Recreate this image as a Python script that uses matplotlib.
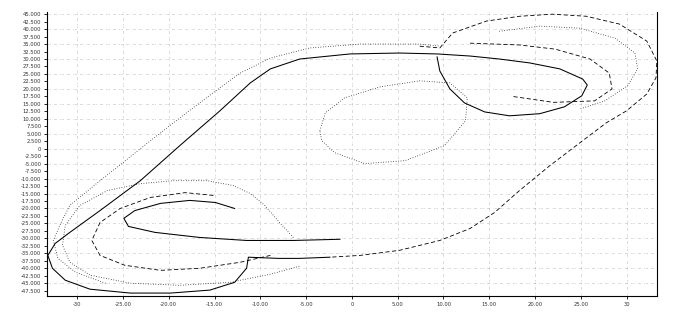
import matplotlib
matplotlib.use("Agg")
import matplotlib.pyplot as plt
import numpy as np

# ---- data ----
# solid: right-lobe loop, top arc, outer left arc, bottom, back out to the right
solid_main_x = [9.3, 9.6, 10.7, 12.3, 14.5, 17.2, 20.5, 23.2, 25.1, 25.7, 25.2, 22.7, 19.4, 16.1, 12.9,
                9.3, 5.2, -0.2, -5.7, -8.9, -11.1, -14.4, -18.8, -23.1, -27.5, -30.8, -32.4, -33.2,
                -32.7, -31.3, -28.6, -24.2, -19.8, -15.5, -12.8, -11.5, -11.3, -8.0, -5.7, -2.4]
solid_main_y = [30.7, 26.0, 20.0, 15.3, 12.3, 11.0, 11.7, 14.0, 17.7, 21.3, 23.3, 26.7, 28.7, 30.0, 31.0,
                31.7, 32.0, 31.7, 30.0, 26.7, 22.0, 12.7, 1.0, -10.7, -20.7, -28.0, -31.7, -35.7,
                -40.0, -44.0, -47.0, -48.3, -48.3, -47.3, -44.7, -40.0, -36.3, -36.7, -36.7, -36.3]

# solid: inner loop of the lower lobe
solid_inner_x = [-1.3, -6.4, -11.5, -16.6, -21.5, -24.4, -24.9, -23.7, -20.9, -17.7, -14.9, -12.8]
solid_inner_y = [-30.3, -30.7, -30.7, -29.7, -28.0, -26.0, -23.3, -20.7, -18.3, -17.3, -18.0, -20.0]

# dashed: outer right loop and the long way back down
dash_outer_x = [7.4, 9.6, 11.0, 14.7, 18.3, 21.9, 25.6, 29.2, 32.2, 33.3, 33.2, 32.2, 30.0, 27.8,
                24.9, 21.6, 18.3, 15.6, 12.9, 9.6, 5.2, 0.9, -2.4]
dash_outer_y = [34.3, 33.7, 38.7, 42.7, 44.3, 45.0, 44.3, 41.7, 36.0, 29.3, 23.7, 18.3, 12.7, 8.7,
                2.0, -5.7, -14.0, -21.3, -26.7, -30.7, -34.0, -35.7, -36.3]

# dotted: upper diagonal running parallel to the solid one
dot_upper_x = [-26.9, -30.2, -32.1, -32.6, -31.8, -30.8, -27.5, -23.1, -18.8, -14.9, -12.2, -8.9,
               -4.6, 0.9, 7.4, 9.6]
dot_upper_y = [-45.0, -41.3, -36.7, -30.7, -25.0, -19.0, -10.7, 0.0, 10.3, 19.3, 25.3, 30.3,
               33.7, 35.0, 35.0, 34.3]

# dashed: middle loop of the lower lobe
dash_lower_x = [-8.9, -12.2, -16.6, -20.9, -24.8, -27.5, -28.4, -27.5, -25.3, -22.0, -18.2, -14.9]
dash_lower_y = [-35.7, -38.0, -40.0, -40.7, -39.0, -35.7, -30.7, -24.7, -20.0, -16.3, -14.7, -15.7]

# dotted: outer loop of the lower lobe
dot_lower_x = [-6.4, -7.9, -9.5, -11.1, -13.0, -15.8, -19.5, -23.1, -26.7, -29.7, -31.3, -31.6,
               -30.8, -28.6, -24.2, -18.8, -13.3, -8.9, -5.7]
dot_lower_y = [-29.7, -24.7, -19.0, -15.0, -12.3, -10.7, -10.7, -11.7, -14.0, -19.0, -25.7, -32.3,
               -38.0, -42.3, -45.0, -45.7, -44.7, -42.0, -39.3]

# dotted: central ellipse
dot_center_x = [-3.5, -2.9, -0.8, 3.1, 7.4, 10.7, 12.6, 12.4, 10.1, 5.8, 1.4, -1.9, -3.3, -3.5]
dot_center_y = [6.0, 12.0, 17.0, 20.7, 22.7, 22.0, 17.0, 9.3, 1.0, -4.0, -5.0, -1.3, 2.7, 6.0]

# dotted: inner loop of the right lobe
dot_right_x = [16.1, 20.5, 24.9, 28.7, 30.9, 31.2, 30.1, 27.6, 24.9]
dot_right_y = [39.3, 41.0, 40.3, 37.0, 32.0, 26.7, 21.0, 16.0, 13.3]

# dashed: inner band of the right lobe
dash_right_x = [12.9, 18.3, 22.2, 26.0, 28.1, 28.4, 26.5, 22.0, 17.5]
dash_right_y = [35.3, 34.7, 33.3, 30.0, 25.3, 20.0, 16.0, 15.5, 17.5]

x_ticks = [-30, -25, -20, -15, -10, -5, 0, 5, 10, 15, 20, 25, 30]
x_labels = ['-30', '-25.00', '-20.00', '-15.00', '-10.00', '-5.00', '0',
            '5.00', '10.00', '15.00', '20.00', '25.00', '30']
y_major = np.arange(-45, 46, 5)
y_minor = np.arange(-47.5, 45, 5)

fig = plt.figure(figsize=(6.8, 3.18), dpi=100)
ax = fig.add_axes([0.069, 0.069, 0.897, 0.893])

dotted = (0, (0.8, 2.2))
dashed = (0, (5, 3))
grid_ls = (0, (0.5, 1.5, 0.5, 1.5, 0.5, 6))

ax.plot(solid_main_x, solid_main_y, color='black', lw=0.75, ls='-')
ax.plot(solid_inner_x, solid_inner_y, color='black', lw=0.75, ls='-')
ax.plot(dash_outer_x, dash_outer_y, color='black', lw=0.6, ls=dashed)
ax.plot(dot_upper_x, dot_upper_y, color='black', lw=0.6, ls=dotted)
ax.plot(dash_lower_x, dash_lower_y, color='black', lw=0.6, ls=dashed)
ax.plot(dot_lower_x, dot_lower_y, color='black', lw=0.6, ls=dotted)
ax.plot(dot_center_x, dot_center_y, color='black', lw=0.6, ls=dotted)
ax.plot(dot_right_x, dot_right_y, color='black', lw=0.6, ls=dotted)
ax.plot(dash_right_x, dash_right_y, color='black', lw=0.6, ls=dashed)

ax.set_xlim(-33.3, 33.3)
ax.set_ylim(-49.3, 45.7)

ax.set_xticks(x_ticks)
ax.set_xticklabels(x_labels)
ax.set_yticks(y_major)
ax.set_yticklabels(['%.3f' % v if v != 0 else '0' for v in y_major])
ax.set_yticks(y_minor, minor=True)
ax.set_yticklabels(['%.3f' % v for v in y_minor], minor=True)
ax.tick_params(axis='both', which='both', labelsize=3.8, length=2, width=0.6,
               pad=2, labelcolor='#333333')

ax.grid(True, which='major', color='#444444', lw=0.45, ls=grid_ls)
ax.spines['top'].set_visible(False)
for s in ['left', 'bottom', 'right']:
    ax.spines[s].set_linewidth(0.8)

fig.savefig('out.png', dpi=100, facecolor='white')
